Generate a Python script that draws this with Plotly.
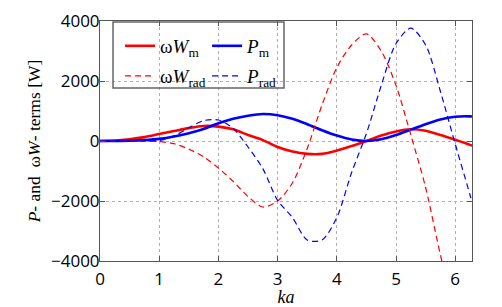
import plotly.graph_objects as go

ka = [0, 0.25, 0.5, 0.75, 1.0, 1.25, 1.5, 1.75, 2.0, 2.25, 2.5, 2.75, 3.0, 3.25,
      3.5, 3.75, 4.0, 4.25, 4.5, 4.75, 5.0, 5.25, 5.5, 5.75, 6.0, 6.25, 6.283]

wW_m = [0, 15, 60, 130, 230, 330, 430, 500, 480, 390, 200, 30, -200, -350,
        -430, -430, -320, -170, 0, 180, 320, 390, 340, 200, 40, -130, -160]

P_m = [0, 2, 10, 30, 70, 150, 260, 400, 590, 740, 840, 900, 860, 740,
       560, 360, 180, 50, 0, 60, 200, 380, 560, 720, 810, 820, 815]

wW_rad = [0, 0, 0, -5, -20, -90, -270, -530, -900, -1350, -1850, -2200, -2000, -1400,
          -250, 1200, 2450, 3200, 3570, 3000, 1850, 200, -1550, -3800, -5800, -7500, -7700]

P_rad = [0, 0, 0, 5, 20, 170, 440, 680, 700, 420, -200, -920, -1980, -2550,
         -3300, -3300, -2550, -1050, 250, 1850, 3250, 3760, 3200, 1650, -100, -1800, -2050]

x_ticks = [0, 1, 2, 3, 4, 5, 6]
y_ticks = [-4000, -2000, 0, 2000, 4000]

names = ["ω<i>W</i><sub>m</sub>", "<i>P</i><sub>m</sub>",
         "ω<i>W</i><sub>rad</sub>", "<i>P</i><sub>rad</sub>"]
series = [wW_m, P_m, wW_rad, P_rad]
colors = ["#ff0000", "#0000ff", "#ff0000", "#0000ff"]
widths = [2.6, 2.6, 1.2, 1.2]
dashes = ["solid", "solid", "6px,4px", "6px,4px"]
legend_ids = ["legend", "legend", "legend2", "legend2"]

fig = go.Figure()
for n, s, c, w, d, lg in zip(names, series, colors, widths, dashes, legend_ids):
    fig.add_trace(go.Scatter(x=ka, y=s, mode="lines", name=n, legend=lg,
                             line=dict(color=c, width=w, dash=d, shape="spline", smoothing=0.8)))

axis_common = dict(showline=True, linecolor="#555555", linewidth=1, mirror="ticks",
                   ticks="inside", ticklen=5, tickcolor="#555555",
                   showgrid=True, gridcolor="#b0b0b0", griddash="dot", gridwidth=1,
                   zeroline=False, automargin=False,
                   tickfont=dict(family="Open Sans", size=17, color="#000"))

fig.update_xaxes(range=[0, 6.2832], tickvals=x_ticks, ticklabelstandoff=3,
                 title=dict(text="<i>ka</i>", font=dict(family="Liberation Serif", size=18, color="#000"),
                            standoff=0),
                 **axis_common)
fig.update_yaxes(range=[-4000, 4000], tickvals=y_ticks, ticklabelstandoff=-4,
                 title=dict(text="<i>P</i>- and  ω<i>W</i>- terms [W]",
                            font=dict(family="Liberation Serif", size=17.5, color="#000"), standoff=5),
                 **axis_common)

leg_common = dict(orientation="h", xanchor="left", yanchor="middle",
                  entrywidth=42, entrywidthmode="pixels",
                  bgcolor="rgba(0,0,0,0)", borderwidth=0,
                  font=dict(family="Liberation Serif", size=19, color="#000"),
                  itemwidth=30)

fig.update_layout(
    width=502, height=307,
    margin=dict(l=100, r=30, t=21, b=46),
    plot_bgcolor="white", paper_bgcolor="white",
    legend=dict(x=0.054, y=0.896, **leg_common),
    legend2=dict(x=0.054, y=0.771, **leg_common),
    shapes=[dict(type="rect", xref="paper", yref="paper",
                 x0=0.035, x1=0.4946, y0=0.7208, y1=0.9958,
                 line=dict(color="#666666", width=1.5), fillcolor="rgba(0,0,0,0)", layer="above")],
    showlegend=True,
)

fig.write_html("out.html", config={"displayModeBar": False},
               post_script="document.body.style.margin='0';document.body.style.padding='0';")
